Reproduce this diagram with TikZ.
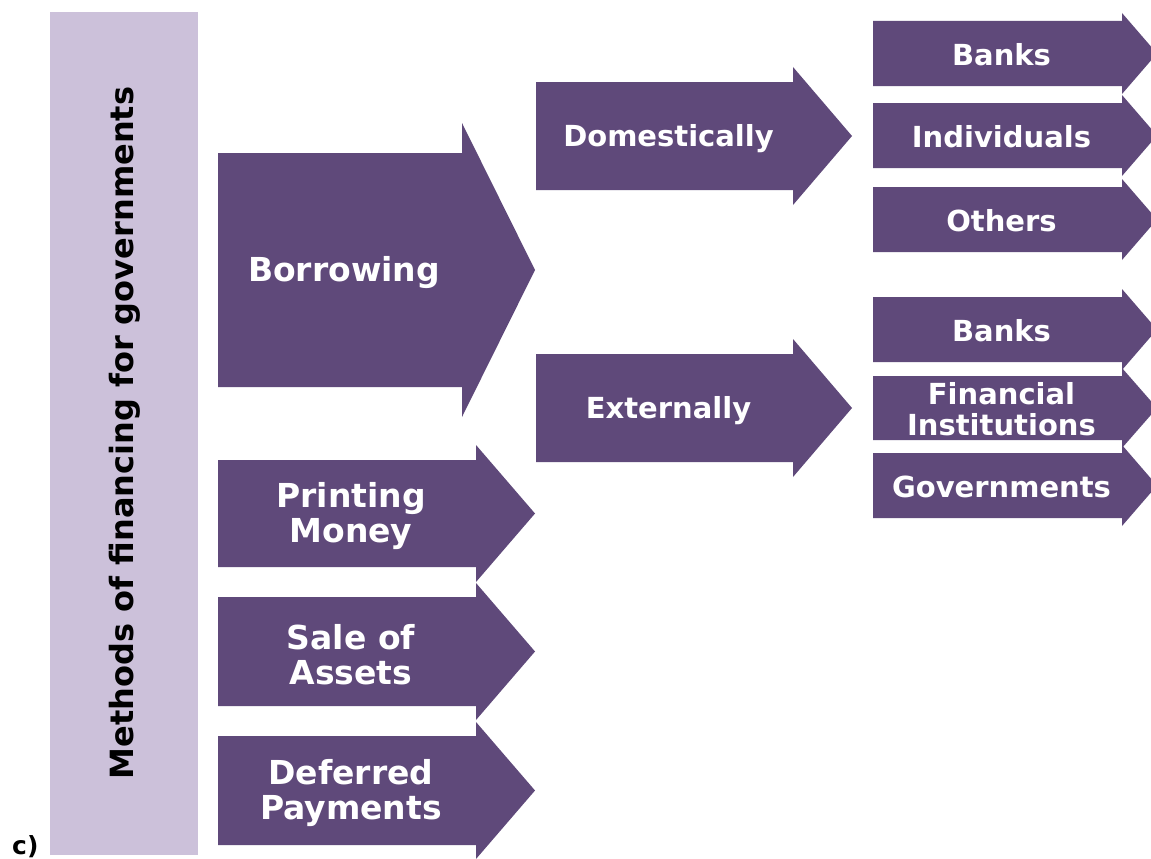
\documentclass[tikz,border=0pt]{standalone}
\usepackage{fontspec}
\setmainfont{DejaVu Sans}
\definecolor{arrowpurple}{HTML}{5F497A}
\definecolor{barlilac}{HTML}{CCC1DA}
\tikzset{
  arrowfill/.style={fill=arrowpurple},
  arrowtext/.style={text=white, font=\bfseries\fontsize{29}{31}\selectfont, align=center, inner sep=0pt, yshift=-3pt},
  smalltext/.style={arrowtext, yshift=2pt},
  bigtext/.style={arrowtext, font=\bfseries\fontsize{33}{35}\selectfont},
  bartext/.style={text=black, font=\bfseries\fontsize{32}{34}\selectfont, rotate=90, inner sep=0pt}
}
% #1 node name, #2 left x, #3 head start x, #4 tip x,
% #5 body top y, #6 body bottom y, #7 head overhang, #8 text style, #9 label
\newcommand\flowarrow[9]{%
  \fill[arrowfill] (#2,#5) -- (#3,#5) -- (#3,#5-#7) -- (#4,{(#5+#6)/2})
    -- (#3,#6+#7) -- (#3,#6) -- (#2,#6) -- cycle;
  \node[#8] (#1) at ({(#2+#3)/2+4},{(#5+#6)/2}) {#9};
}
\begin{document}
\begin{tikzpicture}[x=1pt,y=-1pt]
\useasboundingbox (0,0) rectangle (1151,859);
\clip (0,0) rectangle (1151,859);
\fill[white] (0,0) rectangle (1151,859);

% title bar on the left
\fill[barlilac] (50,12) rectangle (198,855);
\node[bartext] (title) at (125,433) {Methods of financing for governments};
\node[text=black, font=\bfseries\fontsize{25}{27}\selectfont, anchor=base west, inner sep=0pt] (lbl) at (12,854) {c)};

% first level: the four methods
\flowarrow{borrow}{218}{462}{535}{153}{387}{30}{bigtext}{Borrowing}
\flowarrow{print}{218}{476}{535}{460}{567}{15}{bigtext}{Printing\\Money}
\flowarrow{sale}{218}{476}{535}{597}{706}{14}{bigtext}{Sale of\\Assets}
\flowarrow{defer}{218}{476}{535}{736}{845}{14}{bigtext}{Deferred\\Payments}

% second level: where borrowing comes from
\flowarrow{dom}{536}{793}{852}{82}{190}{15}{arrowtext}{Domestically}
\flowarrow{ext}{536}{793}{852}{354}{462}{15}{arrowtext}{Externally}

% third level: lenders
\flowarrow{dbanks}{873}{1122}{1157}{21}{86}{8}{smalltext}{Banks}
\flowarrow{dind}{873}{1122}{1157}{103}{168}{8}{smalltext}{Individuals}
\flowarrow{doth}{873}{1122}{1157}{187}{252}{8}{smalltext}{Others}
\flowarrow{ebanks}{873}{1122}{1157}{297}{362}{8}{smalltext}{Banks}
\flowarrow{efin}{873}{1122}{1157}{376}{440}{8}{smalltext}{Financial\\Institutions}
\flowarrow{egov}{873}{1122}{1157}{453}{518}{8}{smalltext}{Governments}
\end{tikzpicture}
\end{document}
